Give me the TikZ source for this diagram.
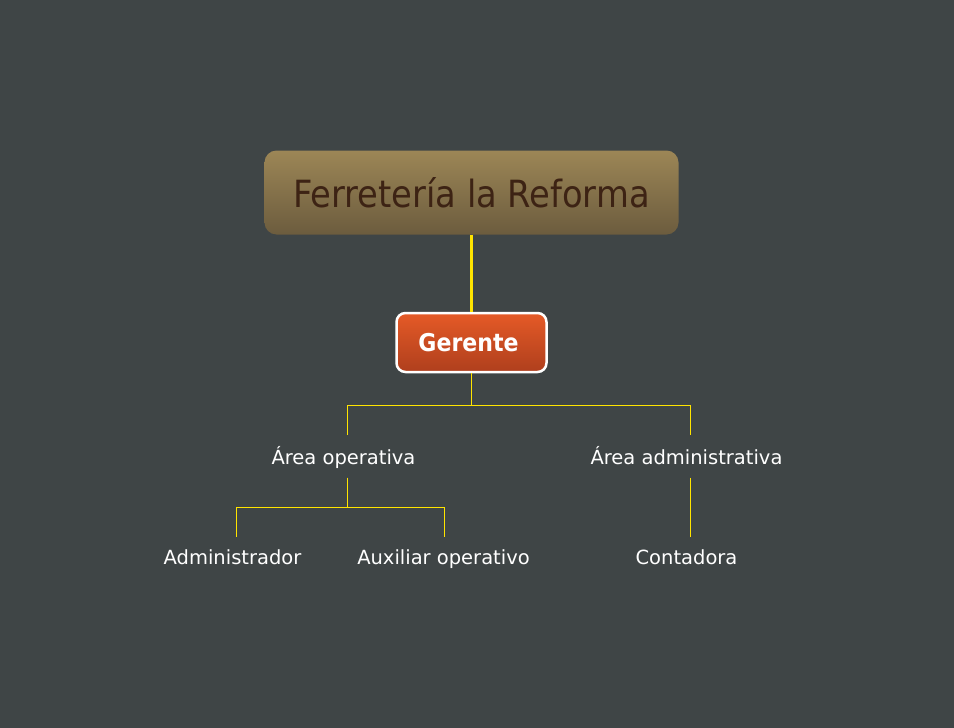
\documentclass[tikz,border=0pt]{standalone}
\usepackage{fontspec}
\setmainfont{DejaVu Sans}
\newfontfamily\headfont{DejaVu Sans Condensed}
\usepackage{tikz}
\usetikzlibrary{positioning}

\definecolor{bgcol}{RGB}{63,69,70}
\definecolor{linecol}{RGB}{255,228,0}
\definecolor{titletop}{RGB}{156,134,86}
\definecolor{titlebot}{RGB}{108,92,62}
\definecolor{titletext}{RGB}{61,35,20}
\definecolor{gertop}{RGB}{229,90,39}
\definecolor{gerbot}{RGB}{175,63,29}

\tikzset{
	titlebox/.style={rounded corners=12pt,top color=titletop,bottom color=titlebot,draw=none,
		minimum width=414pt,minimum height=84pt,text=titletext,font=\headfont\fontsize{37.5}{40}\selectfont},
	gerbox/.style={rounded corners=9pt,top color=gertop,bottom color=gerbot,draw=white,line width=2.5pt,
		minimum width=150pt,minimum height=59pt,text=white,font=\headfont\fontsize{24.5}{26}\selectfont\bfseries},
	area/.style={inner sep=0pt,text height=29pt,text depth=13pt,text=white,font=\fontsize{19.5}{22}\selectfont},
	leaf/.style={inner sep=0pt,text height=27pt,text depth=13pt,text=white,font=\fontsize{19.5}{22}\selectfont},
	trunk/.style={draw=linecol,line width=2.5pt},
	branch/.style={draw=linecol,line width=1.2pt}
}

\begin{document}
\begin{tikzpicture}[x=1pt,y=-1pt]
	\fill[bgcol] (-0.5,-0.5) rectangle (953.5,727.5);
	\useasboundingbox (-0.5,-0.5) rectangle (953.5,727.5);
	
	\node [titlebox] (title) at (471,192) {Ferretería la Reforma};
	\node [gerbox] (ger) at (471,342) {\hspace{-6pt}Gerente};
	
	\node [area] (ao) at (347,456) {\hspace{-8pt}Área operativa};
	\node [area] (aa) at (690,456) {\hspace{-8pt}Área administrativa};
	
	\node [leaf] (adm) at (236,557) {\hspace{-8pt}Administrador};
	\node [leaf] (aux) at (444,557) {\hspace{-2pt}Auxiliar operativo};
	\node [leaf] (cont) at (690,557) {\hspace{-8pt}Contadora};
	
	\draw [trunk] (title.south) -- (ger.north);
	\foreach \n in {ao,aa}
	\draw [branch] (ger.south) -- ++(0,32) -| (\n.north);
	\foreach \n in {adm,aux}
	\draw [branch] (ao.south) -- ++(0,30) -| (\n.north);
	\draw [branch] (aa.south) -- (cont.north);
\end{tikzpicture}
\end{document}
